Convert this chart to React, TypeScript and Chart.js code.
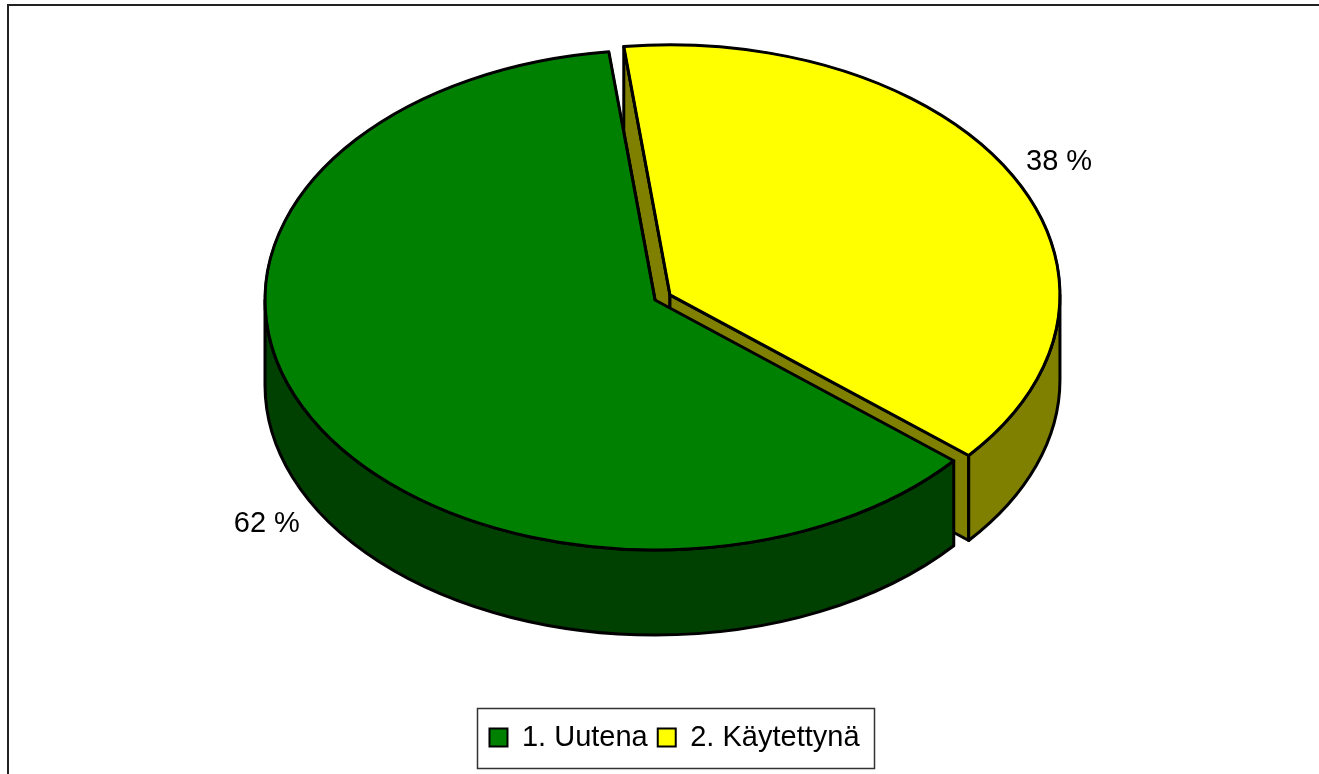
import React, { useEffect, useRef } from 'react';
import { Chart, registerables } from 'chart.js';

Chart.register(...registerables);

// ---- data ----
const categories = ['1. Uutena', '2. Käytettynä'];
const shares = [62, 38];
const topColors = ['#008000', '#FFFF00'];
const sideColors = ['#004000', '#808000'];
const explodePx = [0, 17];

// ---- 3D view placement (layout, not data) ----
const VIEW = { cx: 655, cy: 300, rx: 390, ry: 250, depth: 85, labelRadius: 1.146 };
const FONT = "'Liberation Sans', Arial, sans-serif";

const pie3d = {
  id: 'pie3d',
  beforeDraw(chart: any) {
    const ctx = chart.ctx;
    ctx.save();
    ctx.fillStyle = '#ffffff';
    ctx.fillRect(0, 0, chart.width, chart.height);
    ctx.strokeStyle = '#222';
    ctx.lineWidth = 2;
    ctx.strokeRect(8, 5, chart.width + 20, chart.height + 20);
    ctx.restore();
  },
  beforeDatasetsDraw(chart: any) {
    const ctx = chart.ctx as CanvasRenderingContext2D;
    const meta = chart.getDatasetMeta(0);
    const arcs = meta.data as any[];
    if (!arcs.length) return false;
    const cx0 = arcs[0].x, cy0 = arcs[0].y, r0 = arcs[0].outerRadius;
    const D = VIEW.depth, rx = VIEW.rx, ry = VIEW.ry;
    const slices = arcs.map((el: any, i: number) => {
      const start = el.startAngle, end = el.endAngle, mid = (start + end) / 2;
      const e = explodePx[i] || 0;
      return {
        el, i, start, end, mid,
        ex: VIEW.cx + Math.cos(mid) * e,
        ey: VIEW.cy + Math.sin(mid) * e * ry / rx,
      };
    });
    const pt = (s: any, a: number, d = 0) => [s.ex + rx * Math.cos(a), s.ey + ry * Math.sin(a) + d];

    ctx.save();
    ctx.lineJoin = 'round';
    ctx.lineWidth = 3;
    ctx.strokeStyle = '#000';
    const order = [...slices].sort((a, b) => Math.sin(a.mid) - Math.sin(b.mid));
    for (const s of order) {
      ctx.fillStyle = sideColors[s.i];
      const faces: number[] = [];
      if (Math.cos(s.start) < 0) faces.push(s.start);
      if (Math.cos(s.end) > 0) faces.push(s.end);
      for (const a of faces) {
        const [px, py] = pt(s, a);
        ctx.beginPath();
        ctx.moveTo(s.ex, s.ey);
        ctx.lineTo(px, py);
        ctx.lineTo(px, py + D);
        ctx.lineTo(s.ex, s.ey + D);
        ctx.closePath();
        ctx.fill();
        ctx.stroke();
      }
      for (let k = -1; k <= 2; k++) {
        const lo = Math.max(s.start, k * 2 * Math.PI);
        const hi = Math.min(s.end, k * 2 * Math.PI + Math.PI);
        if (hi <= lo) continue;
        ctx.beginPath();
        ctx.ellipse(s.ex, s.ey, rx, ry, 0, lo, hi, false);
        const [hx, hy] = pt(s, hi, D);
        ctx.lineTo(hx, hy);
        ctx.ellipse(s.ex, s.ey + D, rx, ry, 0, hi, lo, true);
        ctx.closePath();
        ctx.fill();
        ctx.stroke();
      }
    }
    // top faces drawn by the library's arc elements, flattened
    const sx = rx / r0, sy = ry / r0;
    for (const s of slices) {
      ctx.save();
      ctx.setTransform(sx, 0, 0, sy, s.ex - sx * cx0, s.ey - sy * cy0);
      s.el.draw(ctx, chart.chartArea);
      ctx.restore();
      ctx.beginPath();
      ctx.moveTo(s.ex, s.ey);
      ctx.ellipse(s.ex, s.ey, rx, ry, 0, s.start, s.end, false);
      ctx.closePath();
      ctx.stroke();
    }
    // value labels
    const total = shares.reduce((a, b) => a + b, 0);
    ctx.font = `29px ${FONT}`;
    ctx.fillStyle = '#000';
    ctx.textAlign = 'center';
    ctx.textBaseline = 'middle';
    for (const s of slices) {
      const pct = Math.round((shares[s.i] / total) * 100);
      const L = VIEW.labelRadius;
      const x = s.ex + rx * L * Math.cos(s.mid);
      const y = s.ey + ry * L * Math.sin(s.mid) + (Math.sin(s.mid) > 0 ? D : 0);
      ctx.fillText(`${pct} %`, x + (Math.cos(s.mid) < 0 ? 5 : -4), y + 3);
    }
    ctx.restore();
    return false;
  },
  afterDraw(chart: any) {
    const lg = chart.legend;
    if (!lg || !lg.legendHitBoxes || !lg.legendHitBoxes.length) return;
    const hb = lg.legendHitBoxes;
    const left = Math.min(...hb.map((h: any) => h.left)) - 12;
    const right = Math.max(...hb.map((h: any) => h.left + h.width)) + 15;
    const cy = hb[0].top + hb[0].height / 2;
    const ctx = chart.ctx;
    ctx.save();
    ctx.strokeStyle = '#333';
    ctx.lineWidth = 1.5;
    ctx.strokeRect(Math.round(left) + 0.5, Math.round(cy - 30) + 0.5, Math.round(right - left), 60);
    ctx.restore();
  },
};

export default function App() {
  const ref = useRef<HTMLCanvasElement>(null);
  useEffect(() => {
    const canvas = ref.current;
    if (!canvas) return;
    const chart = new Chart(canvas, {
      type: 'pie',
      data: {
        labels: categories,
        datasets: [
          {
            data: shares,
            backgroundColor: topColors,
            borderColor: '#000',
            borderWidth: 2,
          },
        ],
      },
      options: {
        responsive: false,
        animation: false,
        devicePixelRatio: 1,
        events: [],
        rotation: 130,
        layout: { padding: { left: 30, right: 0, top: 20, bottom: 12 } },
        plugins: {
          legend: {
            position: 'bottom',
            labels: {
              color: '#000',
              boxWidth: 18,
              boxHeight: 18,
              padding: 10,
              font: { family: FONT, size: 29 },
            },
          },
          tooltip: { enabled: false },
        },
      },
      plugins: [pie3d as any],
    });
    return () => chart.destroy();
  }, []);
  return (
    <div style={{ position: 'fixed', left: 0, top: 0, width: 1319, height: 774, background: '#fff' }}>
      <canvas ref={ref} width={1319} height={774} style={{ display: 'block' }} />
    </div>
  );
}
